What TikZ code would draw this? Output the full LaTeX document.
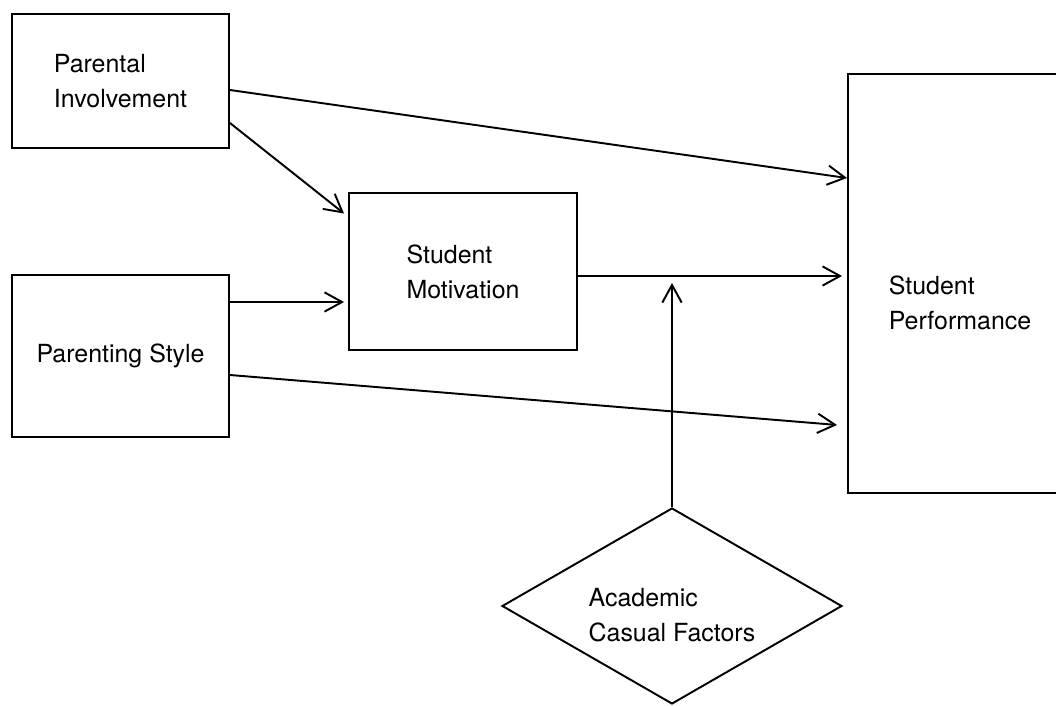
\documentclass[tikz,border=0pt]{standalone}
\usepackage{fontspec}
\setmainfont{TeX Gyre Heros}
\usepackage{tikz}
\usetikzlibrary{arrows.meta,positioning,shapes.geometric}

\begin{document}
\begin{tikzpicture}[
  x=0.02cm, y=-0.02cm,
  box/.style={draw, line width=1.1pt, inner sep=0pt, align=left,
              font=\fontsize{14.2pt}{19.9pt}\selectfont},
  dia/.style={draw, diamond, aspect=1.73, line width=1.1pt, inner sep=0pt, align=left,
              minimum width=6.8cm, minimum height=3.92cm,
              font=\fontsize{14.2pt}{19.9pt}\selectfont},
  arr/.style={-{Straight Barb[length=10pt, width=11pt]}, line width=1.1pt}
]
  \useasboundingbox (0,0) rectangle (1056,706);
  \clip (0,0) rectangle (1056,706);

  \node[box, minimum width=4.34cm, minimum height=2.68cm] (pi)  at (120.5,81)   {Parental\\Involvement};
  \node[box, minimum width=4.34cm, minimum height=3.24cm] (ps)  at (120.5,356)  {Parenting Style};
  \node[box, minimum width=4.56cm, minimum height=3.14cm] (sm)  at (463,271.5)  {Student\\Motivation};
  \node[box, minimum width=4.48cm, minimum height=8.38cm] (sp)  at (960,283.5)  {\rule{0pt}{1.16cm}Student\\Performance};
  \node[dia] (acf) at (672,606) {\rule{0pt}{0.72cm}Academic\\Casual Factors};
  \coordinate (mod) at (672,283);

  \draw[arr] ([yshift=-0.18cm]pi.east) -- ([yshift=2.11cm]sp.west);
  \draw[arr] ([yshift=-0.84cm]pi.east) -- ([xshift=-0.08cm,yshift=1.16cm]sm.west);
  \draw[arr] ([yshift=1.08cm]ps.east)  -- ([xshift=-0.08cm,yshift=-0.61cm]sm.west);
  \draw[arr] ([yshift=-0.38cm]ps.east) -- ([xshift=-0.2cm,yshift=-2.83cm]sp.west);
  \draw[arr] ([yshift=-0.09cm]sm.east) -- ([xshift=-0.1cm,yshift=0.15cm]sp.west);
  \draw[arr] (acf.north) -- (mod);
\end{tikzpicture}
\end{document}
